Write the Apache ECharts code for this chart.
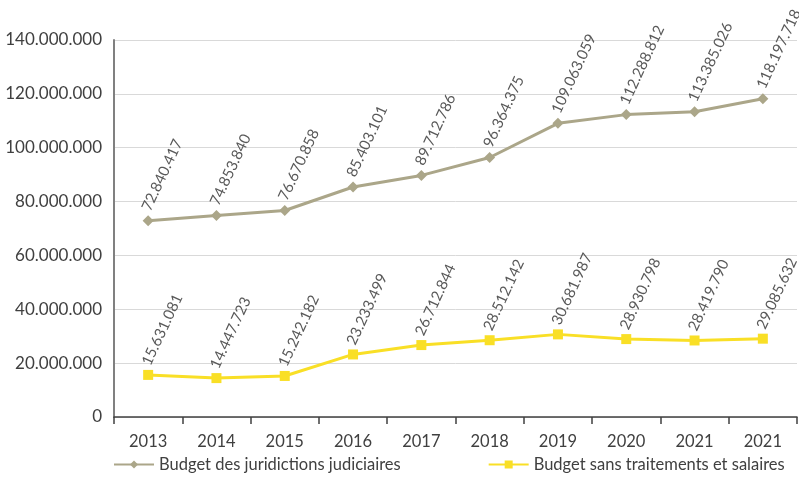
<!DOCTYPE html>
<html>
<head>
<meta charset="utf-8">
<script src="https://cdn.jsdelivr.net/npm/echarts@6/dist/echarts.min.js"></script>
<style>
  html, body { margin: 0; padding: 0; background: #ffffff; }
  #chart { width: 799px; height: 500px; }
</style>
</head>
<body>
<div id="chart"></div>
<script>
// Years on the horizontal axis (the last two are both labelled 2021)
const years = ['2013', '2014', '2015', '2016', '2017', '2018', '2019', '2020', '2021', '2021'];

// Budget des juridictions judiciaires
const budgetJuridictions = [72840417, 74853840, 76670858, 85403101, 89712786, 96364375, 109063059, 112288812, 113385026, 118197718];

// Budget sans traitements et salaires
const budgetSansSalaires = [15631081, 14447723, 15242182, 23233499, 26712844, 28512142, 30681987, 28930798, 28419790, 29085632];

const seriesNames = ['Budget des juridictions judiciaires', 'Budget sans traitements et salaires'];

const FONT = 'Lato, "Open Sans", sans-serif';

// Thousands separated by dots: 140000000 -> 140.000.000
function fmt(v) {
  return String(Math.round(v)).replace(/\B(?=(\d{3})+(?!\d))/g, '.');
}

const labelStyle = {
  show: true,
  position: 'top',
  distance: 10,
  rotate: 65,
  align: 'left',
  verticalAlign: 'middle',
  offset: [-5, 0],
  color: '#595959',
  fontFamily: FONT,
  fontSize: 15,
  formatter: p => fmt(p.value)
};

const chart = echarts.init(document.getElementById('chart'), null, { renderer: 'canvas' });

chart.setOption({
  animation: false,
  backgroundColor: '#ffffff',
  grid: { left: 114, right: 2, top: 40, bottom: 83, containLabel: false },
  legend: {
    bottom: 27,
    left: 113,
    right: 0,
    padding: 0,
    itemGap: 87,
    itemWidth: 40,
    itemHeight: 10,
    textStyle: { color: '#404040', fontFamily: FONT, fontSize: 16.5 },
    data: seriesNames
  },
  xAxis: {
    type: 'category',
    data: years,
    boundaryGap: true,
    axisLine: { lineStyle: { color: '#404040', width: 1.5 } },
    axisTick: { show: true, length: 7, lineStyle: { color: '#404040', width: 1.5 } },
    axisLabel: { color: '#404040', fontFamily: FONT, fontSize: 16.5, margin: 16 }
  },
  yAxis: {
    type: 'value',
    min: 0,
    max: 140000000,
    interval: 20000000,
    axisLine: { show: true, lineStyle: { color: '#808080', width: 2 } },
    axisTick: { show: false },
    splitLine: { lineStyle: { color: '#d9d9d9', width: 1 } },
    axisLabel: { color: '#404040', fontFamily: FONT, fontSize: 17, margin: 12, formatter: v => fmt(v) }
  },
  series: [
    {
      name: seriesNames[0],
      type: 'line',
      data: budgetJuridictions,
      symbol: 'diamond',
      symbolSize: 11,
      lineStyle: { color: '#aba689', width: 3 },
      itemStyle: { color: '#aba689' },
      label: labelStyle
    },
    {
      name: seriesNames[1],
      type: 'line',
      data: budgetSansSalaires,
      symbol: 'rect',
      symbolSize: 10,
      lineStyle: { color: '#f9df26', width: 3 },
      itemStyle: { color: '#f9df26' },
      label: labelStyle
    }
  ]
});
</script>
</body>
</html>
